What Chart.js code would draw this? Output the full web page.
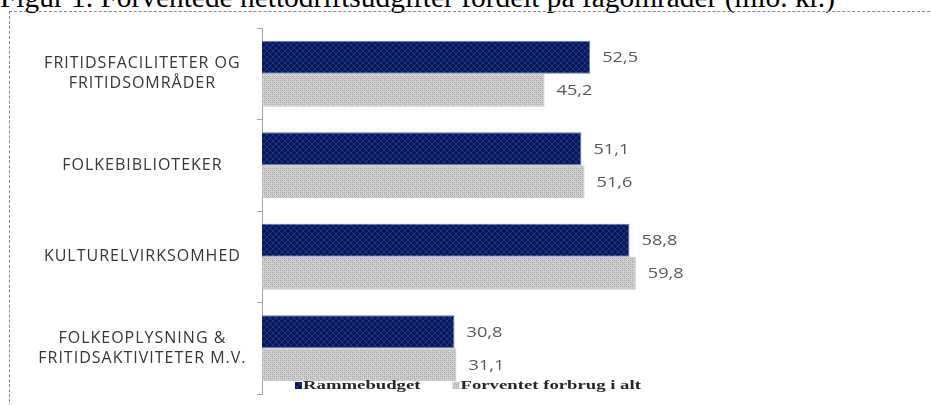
<!DOCTYPE html>
<html>
<head>
<meta charset="utf-8">
<script src="https://cdn.jsdelivr.net/npm/chart.js@4.4.0/dist/chart.umd.min.js"></script>
<style>
html,body{margin:0;padding:0;background:#fff;overflow:hidden}
#wrap{position:relative;width:931px;height:405px;overflow:hidden;background:#fff}
#title{position:absolute;left:0;top:-17px;font-family:"Liberation Serif","Times New Roman",serif;font-size:29.4px;line-height:29px;white-space:nowrap;color:#000}
#frame{position:absolute;left:9px;top:11px;width:960px;height:420px;border-top:1px dashed #8a8a8a;border-left:1px dashed #8a8a8a}
#holder{position:absolute;left:0;top:0;width:931px;height:405px}
</style>
</head>
<body>
<div id="wrap">
  <div id="title">Figur 1. Forventede nettodriftsudgifter fordelt på fagområder (mio. kr.)</div>
  <div id="frame"></div>
  <div id="holder"><canvas id="c" width="931" height="405"></canvas></div>
</div>
<script>
// ---- data ----
const categories = [
  ['FRITIDSFACILITETER OG', 'FRITIDSOMRÅDER'],
  'FOLKEBIBLIOTEKER',
  'KULTURELVIRKSOMHED',
  ['FOLKEOPLYSNING &', 'FRITIDSAKTIVITETER M.V.']
];
const seriesNames = ['Rammebudget', 'Forventet forbrug i alt'];
const rammebudget = [52.5, 51.1, 58.8, 30.8];
const forventet = [45.2, 51.6, 59.8, 31.1];

// ---- patterns ----
const canvas = document.getElementById('c');
const ctx0 = canvas.getContext('2d');

function navyPattern() {
  const c = document.createElement('canvas');
  c.width = 6; c.height = 6;
  const g = c.getContext('2d');
  g.fillStyle = '#08175a';
  g.fillRect(0, 0, 6, 6);
  g.fillStyle = '#1f3782';
  for (let i = 0; i < 6; i++) {
    g.fillRect(i, i, 1, 1);
    g.fillRect(5 - i, i, 1, 1);
  }
  return ctx0.createPattern(c, 'repeat');
}
function grayPattern() {
  const c = document.createElement('canvas');
  c.width = 6; c.height = 6;
  const g = c.getContext('2d');
  g.fillStyle = '#d2d2d2';
  g.fillRect(0, 0, 6, 6);
  g.fillStyle = '#aaaaaa';
  for (let y = 0; y < 6; y += 2) for (let x = 0; x < 6; x += 2) g.fillRect(x, y, 1, 1);
  g.fillStyle = '#b4b4b4';
  g.fillRect(1, 1, 1, 1); g.fillRect(3, 3, 1, 1); g.fillRect(5, 5, 1, 1);
  return ctx0.createPattern(c, 'repeat');
}
const navyFill = navyPattern();
const grayFill = grayPattern();

function fmt(v) { return v.toFixed(1).replace('.', ','); }

// ---- plugins ----
const spacingPlugin = {
  id: 'spacing',
  beforeDraw(chart) { try { chart.ctx.letterSpacing = '1px'; } catch (e) {} },
  afterDraw(chart) { try { chart.ctx.letterSpacing = '0px'; } catch (e) {} }
};

const valueLabels = {
  id: 'valueLabels',
  afterDatasetsDraw(chart) {
    const ctx = chart.ctx;
    ctx.save();
    try { ctx.letterSpacing = '0px'; } catch (e) {}
    ctx.font = '14px "Open Sans", sans-serif';
    ctx.fillStyle = '#595959';
    ctx.textAlign = 'left';
    ctx.textBaseline = 'middle';
    chart.data.datasets.forEach((ds, di) => {
      const meta = chart.getDatasetMeta(di);
      meta.data.forEach((el, i) => {
        ctx.save();
        ctx.translate(el.x + 12, el.y + 1);
        ctx.scale(1.3, 1);
        ctx.fillText(fmt(ds.data[i]), 0, 0);
        ctx.restore();
      });
    });
    ctx.restore();
  }
};

const customLegend = {
  id: 'customLegend',
  afterDraw(chart) {
    const ctx = chart.ctx;
    const area = chart.chartArea;
    ctx.save();
    try { ctx.letterSpacing = '0px'; } catch (e) {}
    ctx.font = 'bold 13px "Liberation Serif", serif';
    ctx.textBaseline = 'middle';
    ctx.textAlign = 'left';
    const sx = 1.44;
    let x = area.left + 33;
    const y = area.bottom - 8;
    chart.data.datasets.forEach(ds => {
      ctx.fillStyle = ds.backgroundColor;
      ctx.fillRect(x, y - 4, 7, 7);
      x += 8;
      ctx.save();
      ctx.translate(x, y);
      ctx.scale(sx, 1);
      ctx.fillStyle = '#262626';
      ctx.fillText(ds.label, 0, 0);
      ctx.restore();
      x += ctx.measureText(ds.label).width * sx + 32;
    });
    ctx.restore();
  }
};

new Chart(canvas, {
  type: 'bar',
  data: {
    labels: categories,
    datasets: [
      { label: seriesNames[0], data: rammebudget, backgroundColor: navyFill, borderColor: '#5f74b4', borderWidth: 1 },
      { label: seriesNames[1], data: forventet, backgroundColor: grayFill, borderColor: '#bdbdbd', borderWidth: 1 }
    ]
  },
  options: {
    indexAxis: 'y',
    responsive: false,
    animation: false,
    devicePixelRatio: 1,
    layout: { padding: { left: 0, right: 44, top: 28, bottom: 11 } },
    categoryPercentage: 0.723,
    barPercentage: 1.0,
    plugins: { legend: { display: false }, tooltip: { enabled: false }, title: { display: false } },
    scales: {
      x: { display: false, min: 0, max: 100 },
      y: {
        afterFit(scale) {
          scale.width = 262;
          scale.paddingTop = 0;
          scale.paddingBottom = 0;
        },
        grid: { display: true, drawOnChartArea: false, drawTicks: true, tickLength: 5, color: '#a6a6a6', offset: true },
        border: { display: true, color: '#a6a6a6', width: 1 },
        ticks: {
          crossAlign: 'center',
          padding: 22,
          color: '#363636',
          font: { family: '"Open Sans", sans-serif', size: 16, lineHeight: 1.25 }
        }
      }
    }
  },
  plugins: [spacingPlugin, valueLabels, customLegend]
});
</script>
</body>
</html>
